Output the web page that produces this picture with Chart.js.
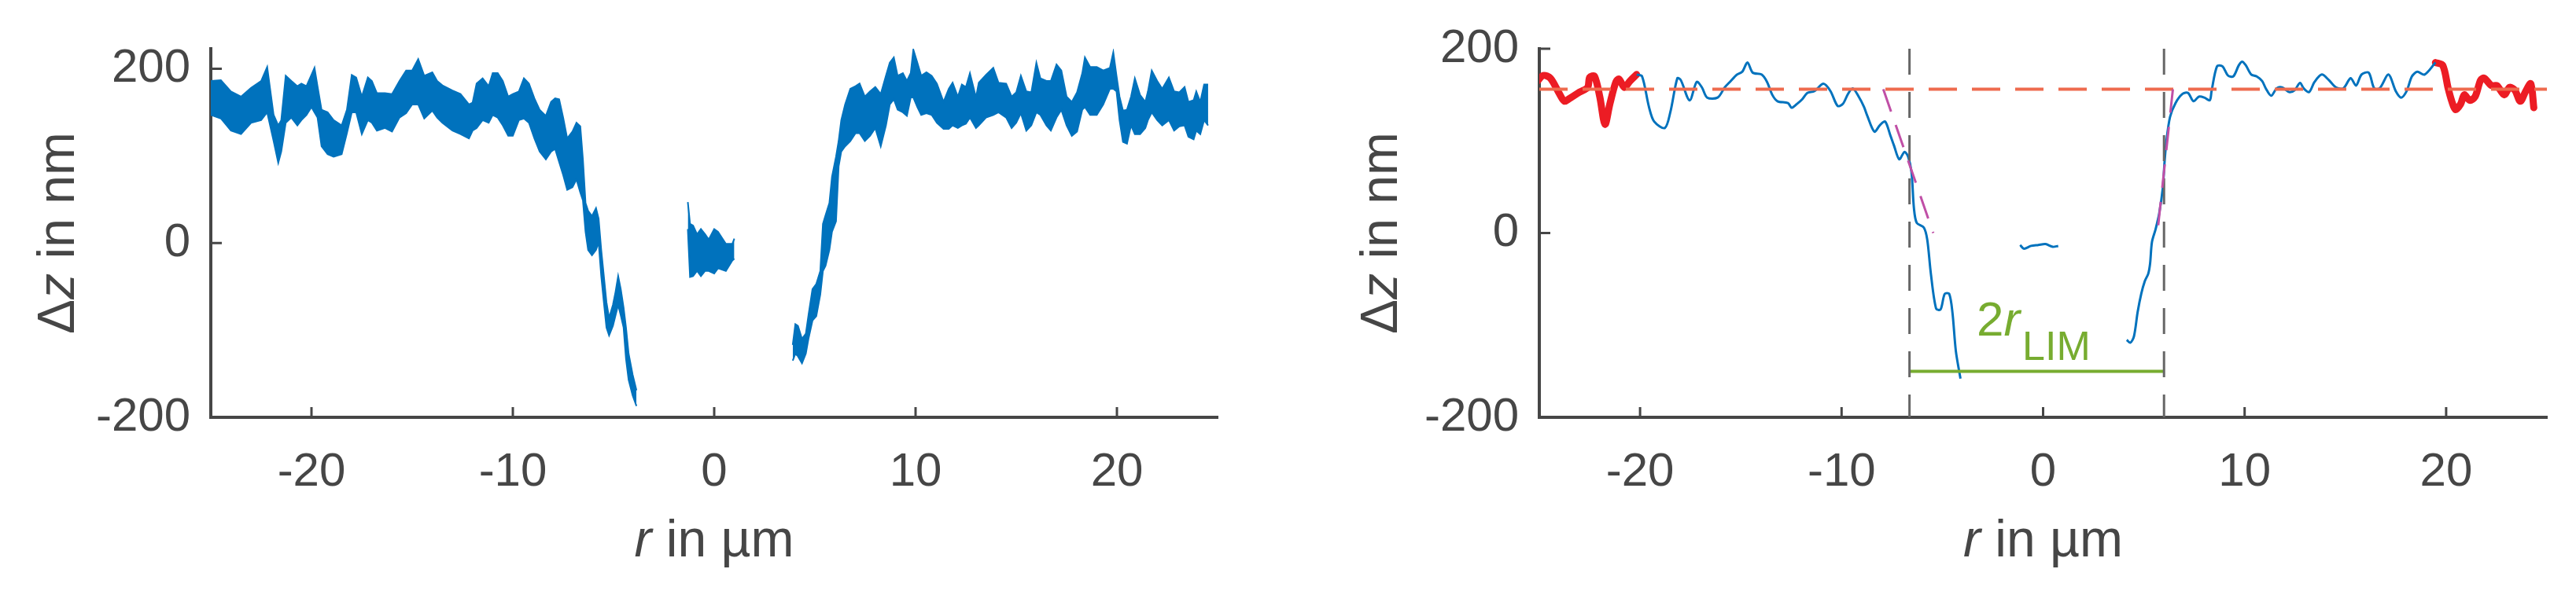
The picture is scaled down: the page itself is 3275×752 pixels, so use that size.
<!DOCTYPE html>
<html>
<head>
<meta charset="utf-8">
<script src="https://cdn.jsdelivr.net/npm/chart.js@4.4.1/dist/chart.umd.min.js"></script>
<style>
body { margin: 0; background: #fff; }
#wrap { position: relative; width: 3275px; height: 752px; }
canvas { position: absolute; top: 0; }
</style>
</head>
<body>
<div id="wrap">
  <canvas id="raw" width="1640" height="752" style="left:0px"></canvas>
  <canvas id="fit" width="1635" height="752" style="left:1640px"></canvas>
</div>
<script>
// ---- ticks
const xTicks = [-20, -10, 0, 10, 20];
const yTicks = [-200, 0, 200];

// ---- left panel: raw profile, read as upper / lower edge of the noise band
const rawA_r = [-25, -24.5, -24, -23.5, -23, -22.5, -22.2, -21.88, -21.65, -21.5, -21.28, -21, -20.7, -20.5, -20.25, -20, -19.85, -19.7, -19.5, -19.2, -18.9, -18.5, -18.24, -18, -17.78, -17.5, -17.2, -17, -16.75, -16.35, -16, -15.63, -15.3, -15, -14.7, -14.4, -14, -13.76, -13.5, -13, -12.6, -12.18, -12, -11.8, -11.5, -11.2, -11, -10.75, -10.5, -10.23, -10, -9.7, -9.45, -9.2, -8.93, -8.67, -8.36, -8.1, -7.9, -7.7, -7.5, -7.3, -7.04, -6.84, -6.65, -6.52, -6.39, -6.26, -6.07, -5.87, -5.74, -5.61, -5.48, -5.35, -5.22, -5.03, -4.9, -4.77, -4.64, -4.5, -4.38, -4.25, -4.05, -3.86];
const rawA_hi = [186, 187, 174, 168, 178, 186, 202, 147, 135, 141, 192, 186, 180, 183, 180, 193, 201, 180, 153, 150, 141, 135, 153, 193, 190, 168, 190, 186, 172, 172, 171, 186, 198, 198, 211, 192, 196, 186, 181, 175, 171, 159, 161, 183, 189, 180, 195, 195, 186, 168, 171, 174, 189, 183, 166, 153, 146, 162, 166, 165, 144, 120, 128, 138, 134, 96, 46, 37, 31, 40, 28, -8, -38, -68, -86, -71, -56, -38, -53, -74, -97, -127, -151, -169];
const rawA_lo = [147, 143, 129, 125, 138, 141, 150, 117, 92, 105, 138, 144, 135, 141, 147, 156, 150, 144, 111, 102, 99, 102, 126, 150, 150, 125, 141, 138, 129, 132, 128, 144, 149, 159, 159, 143, 152, 144, 138, 129, 125, 120, 129, 132, 141, 138, 147, 144, 135, 123, 123, 141, 143, 138, 120, 105, 96, 105, 108, 93, 78, 61, 64, 73, 58, 49, 13, -8, -14, -8, 1, -38, -68, -97, -106, -95, -83, -71, -83, -97, -133, -157, -175, -187];

const rawB_r = [-1.31, -1.2, -1.05, -0.85, -0.66, -0.45, -0.27, 0, 0.19, 0.58, 0.9, 1.0];
const rawB_hi = [47, 22, 20, 10, 16, 10, 4, 16, 13, -1, -1, 5];
const rawB_lo = [16, -39, -38, -32, -38, -32, -32, -35, -29, -32, -20, -18];

const rawC_r = [3.9, 4.03, 4.16, 4.36, 4.55, 4.68, 4.88, 5.07, 5.27, 5.4, 5.53, 5.72, 5.85, 6.05, 6.18, 6.31, 6.5, 6.76, 7.02, 7.22, 7.48, 7.74, 8.0, 8.27, 8.53, 8.72, 8.92, 9.11, 9.37, 9.57, 9.76, 9.89, 10.09, 10.28, 10.54, 10.8, 11.06, 11.39, 11.65, 11.84, 12.1, 12.3, 12.5, 12.7, 13, 13.14, 13.5, 13.86, 14.12, 14.5, 14.77, 15, 15.23, 15.5, 15.75, 16, 16.2, 16.5, 16.72, 17, 17.24, 17.5, 17.76, 18.02, 18.28, 18.41, 18.67, 19, 19.32, 19.65, 19.82, 19.98, 20.13, 20.3, 20.5, 20.7, 20.89, 21.15, 21.41, 21.54, 21.73, 22, 22.25, 22.58, 22.84, 23.1, 23.36, 23.55, 23.81, 23.94, 24.14, 24.33, 24.53];
const rawC_hi = [-117, -93, -95, -110, -104, -83, -53, -47, -32, 22, 32, 46, 76, 99, 117, 141, 159, 177, 180, 183, 168, 174, 179, 171, 192, 207, 213, 192, 195, 186, 195, 222, 207, 192, 196, 192, 183, 162, 177, 184, 168, 182, 179, 195, 167, 184, 193, 201, 184, 183, 168, 173, 192, 174, 173, 207, 189, 186, 186, 205, 198, 168, 162, 173, 195, 213, 202, 202, 198, 201, 219, 192, 168, 152, 153, 168, 189, 170, 162, 174, 198, 186, 177, 190, 174, 173, 179, 162, 164, 174, 162, 182, 182];
const rawC_lo = [-135, -127, -130, -138, -127, -110, -89, -84, -59, -32, -26, -8, 13, 25, 88, 105, 111, 117, 126, 126, 117, 123, 132, 111, 135, 159, 165, 153, 150, 146, 167, 167, 156, 147, 149, 147, 138, 131, 131, 135, 132, 135, 137, 144, 132, 135, 144, 147, 150, 144, 132, 138, 149, 129, 135, 150, 147, 135, 129, 144, 153, 135, 123, 128, 153, 156, 147, 147, 159, 177, 177, 174, 141, 116, 114, 135, 125, 125, 132, 141, 150, 141, 135, 141, 129, 134, 135, 122, 119, 129, 125, 141, 135];

// ---- right panel: smoothed profile and the fit
const fitA_r = [-20.17, -19.9, -19.56, -19.3, -18.77, -18.5, -18.15, -17.98, -17.54, -17.19, -16.93, -16.67, -16.15, -15.8, -15.54, -15.19, -14.93, -14.67, -14.41, -13.97, -13.7, -13.44, -13.18, -12.66, -12.48, -12.22, -11.96, -11.7, -11.35, -10.9, -10.55, -10.2, -9.94, -9.68, -9.45, -9.15, -8.89, -8.72, -8.37, -8.1, -7.84, -7.58, -7.4, -7.14, -6.88, -6.7, -6.53, -6.41, -6.27, -5.92, -5.75, -5.57, -5.31, -5.09, -4.88, -4.66, -4.5, -4.33, -4.1];
const fitA_z = [172, 170, 137, 121, 114, 131, 168, 166, 144, 164, 158, 147, 147, 158, 164, 172, 175, 185, 174, 172, 164, 150, 143, 141, 136, 140, 145, 152, 154, 162, 154, 138, 140, 151, 157, 148, 137, 127, 110, 117, 121, 106, 95, 80, 88, 83, 66, 27, 11, 6, -7, -44, -82, -83, -66, -66, -86, -128, -158];
const fitB_r = [-1.14, -0.95, -0.6, -0.24, 0.12, 0.48, 0.75];
const fitB_z = [-13, -17, -14, -13, -12, -15, -14];
const fitC_r = [4.15, 4.33, 4.51, 4.69, 4.87, 5.05, 5.22, 5.31, 5.4, 5.58, 5.76, 5.94, 6.03, 6.12, 6.3, 6.57, 6.92, 7.19, 7.46, 7.73, 8.0, 8.27, 8.36, 8.63, 8.9, 9.17, 9.44, 9.71, 9.88, 10.06, 10.33, 10.6, 10.87, 11.05, 11.32, 11.59, 11.86, 12.21, 12.48, 12.75, 12.93, 13.2, 13.47, 13.83, 14.18, 14.54, 14.9, 15.26, 15.53, 15.8, 16.16, 16.43, 16.7, 17.14, 17.5, 17.77, 18.04, 18.3, 18.57, 18.93, 19.47];
const fitC_z = [-116, -119, -112, -86, -66, -52, -44, -33, -10, 4, 21, 49, 78, 100, 126, 141, 151, 152, 143, 148, 147, 144, 154, 181, 181, 171, 170, 182, 186, 182, 172, 170, 165, 157, 149, 157, 158, 153, 155, 163, 157, 153, 164, 172, 166, 158, 157, 168, 160, 172, 174, 157, 157, 172, 154, 147, 154, 170, 175, 172, 185];

// edge parts used for the level (red)
const edgeL_r = [-25.13, -24.8, -24.45, -24.0, -23.75, -23.5, -23.0, -22.6, -22.5, -22.26, -22.0, -21.74, -21.5, -21.2, -21.04, -20.78, -20.5, -20.17];
const edgeL_z = [164, 171, 168, 151, 143, 146, 153, 158, 169, 170, 148, 118, 140, 164, 167, 158, 165, 172];
const edgeR_r = [19.47, 19.83, 20.1, 20.28, 20.46, 20.72, 20.9, 21.17, 21.44, 21.71, 21.89, 22.25, 22.52, 22.88, 23.15, 23.41, 23.68, 23.95, 24.2, 24.35];
const edgeR_z = [185, 182, 157, 143, 134, 140, 150, 144, 148, 166, 168, 160, 160, 150, 158, 155, 143, 154, 162, 136];

const levelZ = 156;
const limR = [-6.63, 6.0];
const limZ = -150;
const tanL_r = [-7.93, -5.45], tanL_z = [156, 0];
const tanR_r = [6.44, 5.67], tanR_z = [156, 0];
const labelR = -3.3, labelZ = -111, labelSubZ = -138;

// ---- styling
const axisColor = '#464646';
const fontFam = '"Liberation Sans", Arial, Helvetica, sans-serif';
const blue = '#0072BD', red = '#EC1C24', level = '#EE6B4E', gray = '#666666', magenta = '#C04FA6', green = '#77AC30';

function pts(rs, zs) { return rs.map((r, i) => ({ x: r, y: zs[i] })); }
function withGaps(...parts) {
  let out = [];
  parts.forEach((p, i) => {
    if (i > 0) out.push({ x: (out[out.length - 1].x + p[0].x) / 2, y: null });
    out = out.concat(p);
  });
  return out;
}

function drawRich(ctx, parts, cx, y, size) {
  let total = 0;
  parts.forEach(p => { ctx.font = (p[1] ? 'italic ' : '') + size + 'px ' + fontFam; total += ctx.measureText(p[0]).width; });
  let x = cx - total / 2;
  parts.forEach(p => {
    ctx.font = (p[1] ? 'italic ' : '') + size + 'px ' + fontFam;
    ctx.fillText(p[0], x, y);
    x += ctx.measureText(p[0]).width;
  });
}

// inward ticks + axis titles with italic symbols, like the MATLAB original
const matlabAxes = {
  id: 'matlabAxes',
  afterDraw(chart, args, opts) {
    const ctx = chart.ctx, xs = chart.scales.x, ys = chart.scales.y, a = chart.chartArea;
    ctx.save();
    ctx.strokeStyle = axisColor;
    ctx.lineWidth = 3;
    xs.ticks.forEach(t => {
      const px = xs.getPixelForValue(t.value);
      ctx.beginPath(); ctx.moveTo(px, a.bottom); ctx.lineTo(px, a.bottom - 13); ctx.stroke();
    });
    ys.ticks.forEach(t => {
      const py = ys.getPixelForValue(t.value);
      ctx.beginPath(); ctx.moveTo(a.left, py); ctx.lineTo(a.left + 14, py); ctx.stroke();
    });
    ctx.fillStyle = axisColor;
    ctx.textAlign = 'left';
    ctx.textBaseline = 'alphabetic';
    drawRich(ctx, [['r', true], [' in µm', false]], (a.left + a.right) / 2, opts.xTitleY, opts.titleSize);
    ctx.translate(opts.yTitleX, (a.top + a.bottom) / 2);
    ctx.rotate(-Math.PI / 2);
    drawRich(ctx, [['Δ', false], ['z', true], [' in nm', false]], 0, 0, opts.titleSize);
    ctx.restore();
  }
};

const limLabel = {
  id: 'limLabel',
  afterDatasetsDraw(chart) {
    const ctx = chart.ctx, xs = chart.scales.x, ys = chart.scales.y;
    let x = xs.getPixelForValue(labelR);
    const y = ys.getPixelForValue(labelZ);
    ctx.save();
    ctx.fillStyle = green;
    ctx.textAlign = 'left';
    ctx.textBaseline = 'alphabetic';
    ctx.font = '62px ' + fontFam;
    ctx.fillText('2', x, y);
    x += ctx.measureText('2').width;
    ctx.font = 'italic 62px ' + fontFam;
    ctx.fillText('r', x, y);
    x += ctx.measureText('r').width;
    ctx.font = '52px ' + fontFam;
    ctx.fillText('LIM', x + 3, ys.getPixelForValue(labelSubZ));
    ctx.restore();
  }
};

function scalesFor(yMax, yWidth) {
  return {
    x: {
      type: 'linear', min: -25, max: 25,
      afterBuildTicks: s => { s.ticks = xTicks.map(v => ({ value: v })); },
      afterFit: s => { s.height = 221; },
      grid: { display: false, drawTicks: false },
      border: { display: true, color: axisColor, width: 4 },
      ticks: { color: axisColor, padding: 34, font: { family: fontFam, size: 60 }, maxRotation: 0 }
    },
    y: {
      type: 'linear', min: -200, max: yMax,
      afterBuildTicks: s => { s.ticks = yTicks.map(v => ({ value: v })); },
      afterFit: s => { s.width = yWidth; },
      grid: { display: false, drawTicks: false },
      border: { display: true, color: axisColor, width: 4 },
      ticks: { color: axisColor, padding: 26, font: { family: fontFam, size: 60 } }
    }
  };
}

function band(rs, hi, lo) {
  return [
    { data: pts(rs, hi), borderColor: blue, borderWidth: 2, fill: false },
    { data: pts(rs, lo), borderColor: blue, borderWidth: 2, backgroundColor: blue, fill: '-1' }
  ];
}

const common = {
  responsive: false,
  animation: false,
  devicePixelRatio: 1,
  elements: { point: { radius: 0 }, line: { tension: 0 } },
  plugins: { legend: { display: false }, tooltip: { enabled: false } }
};

new Chart(document.getElementById('raw'), {
  type: 'line',
  data: {
    datasets: [].concat(band(rawA_r, rawA_hi, rawA_lo), band(rawB_r, rawB_hi, rawB_lo), band(rawC_r, rawC_hi, rawC_lo))
  },
  options: Object.assign({}, common, {
    layout: { padding: { top: 58, right: 92, left: 0, bottom: 0 } },
    scales: scalesFor(223, 268),
    plugins: Object.assign({}, common.plugins, { matlabAxes: { xTitleY: 708, yTitleX: 94, titleSize: 66 } })
  }),
  plugins: [matlabAxes]
});

new Chart(document.getElementById('fit'), {
  type: 'line',
  data: {
    datasets: [
      { data: withGaps(pts(tanL_r, tanL_z), pts(tanR_r, tanR_z)), borderColor: magenta, borderWidth: 3, borderDash: [30, 18], order: 0 },
      { data: pts([-25, 25], [levelZ, levelZ]), borderColor: level, borderWidth: 4, borderDash: [36, 19], order: 1 },
      { data: withGaps(pts([limR[0], limR[0]], [200, -200]), pts([limR[1], limR[1]], [200, -200])), borderColor: gray, borderWidth: 3, borderDash: [33, 22], order: 2 },
      { data: pts(limR, [limZ, limZ]), borderColor: green, borderWidth: 4, order: 3 },
      { data: withGaps(pts(fitA_r, fitA_z), pts(fitB_r, fitB_z), pts(fitC_r, fitC_z)), borderColor: blue, borderWidth: 3, tension: 0.3, order: 4 },
      { data: withGaps(pts(edgeL_r, edgeL_z), pts(edgeR_r, edgeR_z)), borderColor: red, borderWidth: 9, tension: 0.3, borderCapStyle: 'round', borderJoinStyle: 'round', order: 5 }
    ]
  },
  options: Object.assign({}, common, {
    layout: { padding: { top: 59, right: 37, left: 0, bottom: 0 } },
    scales: scalesFor(200, 317),
    plugins: Object.assign({}, common.plugins, { matlabAxes: { xTitleY: 708, yTitleX: 136, titleSize: 66 } })
  }),
  plugins: [matlabAxes, limLabel]
});
</script>
</body>
</html>
